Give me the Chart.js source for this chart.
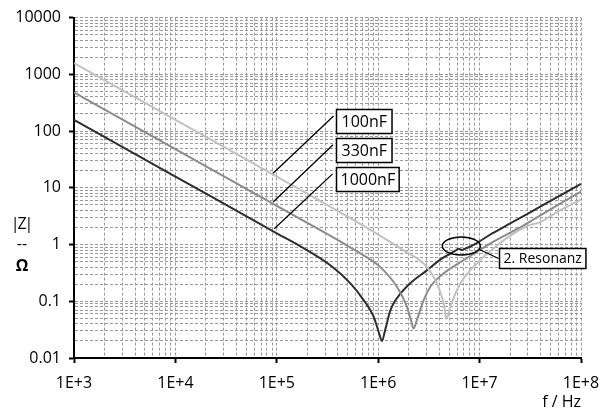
<!DOCTYPE html>
<html>
<head>
<meta charset="utf-8">
<script src="https://cdn.jsdelivr.net/npm/chart.js@4/dist/chart.umd.min.js"></script>
<style>
    html, body { margin: 0; padding: 0; background: #fff; }
    #wrap { width: 611px; height: 410px; position: relative; }
</style>
</head>
<body>
<div id="wrap"><canvas id="chart"></canvas></div>
<script>
// axis decades and their labels
const xDecades = [1e3, 1e4, 1e5, 1e6, 1e7, 1e8];
const xTickLabels = ['1E+3', '1E+4', '1E+5', '1E+6', '1E+7', '1E+8'];
const yDecades = [0.01, 0.1, 1, 10, 100, 1000, 10000];
const yTickLabels = ['0.01', '0.1', '1', '10', '100', '1000', '10000'];

// 1000nF (dark)
const freq1000 = [1e3, 1e4, 1e5, 1.71e5, 3.37e5, 5.32e5, 7.18e5, 9.0e5, 1.01e6, 1.09e6, 1.17e6, 1.32e6, 1.53e6, 2.07e6, 2.95e6, 4.26e6, 5.75e6, 6.2e6, 6.7e6, 7.5e6, 9.2e6, 1.33e7, 2e7, 4e7, 1e8];
const z1000 = [158, 15.8, 1.58, 0.93, 0.43, 0.207, 0.105, 0.054, 0.029, 0.020, 0.031, 0.070, 0.113, 0.207, 0.34, 0.57, 0.77, 0.84, 0.80, 0.87, 1.04, 1.57, 2.35, 4.7, 11.7];

// 330nF (medium)
const freq330 = [1e3, 1e4, 1e5, 5.94e5, 1.05e6, 1.53e6, 1.92e6, 2.12e6, 2.23e6, 2.41e6, 2.81e6, 3.27e6, 4.42e6, 6.95e6, 1.27e7, 2.72e7, 3.97e7, 1e8];
const z330 = [480, 48, 4.8, 0.79, 0.40, 0.180, 0.080, 0.044, 0.033, 0.047, 0.105, 0.180, 0.31, 0.53, 1.04, 2.18, 3.27, 8.6];

// 100nF (light)
const freq100 = [1e3, 1e4, 1e5, 1e6, 1.78e6, 3.03e6, 3.8e6, 4.42e6, 4.7e6, 5.14e6, 5.98e6, 6.95e6, 8.09e6, 1.49e7, 2.93e7, 3.97e7, 5.8e7, 1e8];
const z100 = [1580, 158, 15.8, 1.5, 0.79, 0.40, 0.207, 0.092, 0.049, 0.080, 0.158, 0.253, 0.354, 0.97, 2.12, 2.49, 3.73, 6.2];

const FONT = '"Open Sans", "Noto Sans", sans-serif';

// annotation anchors in data coordinates (frequency, impedance)
const leaders = [
    { from: [9.2e4, 18], to: [3.63e5, 185] },
    { from: [9.2e4, 5.6], to: [3.59e5, 57.5] },
    { from: [9.44e4, 1.9], to: [3.55e5, 17.6] },
    { from: [9.93e6, 0.817], to: [1.54e7, 0.568] }
];
const boxes = [
    { text: '100nF', at: [3.86e5, 150], h: 24, pad: 5, size: 16 },
    { text: '330nF', at: [3.86e5, 47], h: 24, pad: 5, size: 16 },
    { text: '1000nF', at: [3.86e5, 14.3], h: 24, pad: 4, size: 16 },
    { text: '2. Resonanz', at: [1.54e7, 0.568], h: 20, pad: 4, size: 14 }
];
const ring = { at: [6.6e6, 0.94], rx: 19, ry: 9 };

function logTicks(decades) {
    const out = [];
    decades.forEach((d, i) => {
        out.push(d);
        if (i < decades.length - 1) {
            for (let m = 2; m <= 9; m++) out.push(m * d);
        }
    });
    return out.map(v => ({ value: v }));
}

function decadeIndex(decades, value) {
    return decades.findIndex(d => Math.abs(d - value) / d < 1e-9);
}

function toPoints(fs, zs) {
    return fs.map((f, i) => ({ x: f, y: zs[i] }));
}

function series(label, fs, zs, color) {
    return {
        label: label,
        data: toPoints(fs, zs),
        borderColor: color,
        borderWidth: 2,
        pointRadius: 0,
        cubicInterpolationMode: 'monotone',
        fill: false
    };
}

const annotationPlugin = {
    id: 'annotations',
    afterDatasetsDraw(chart) {
        const { ctx, scales: { x, y } } = chart;
        const px = f => x.getPixelForValue(f);
        const py = z => y.getPixelForValue(z);
        ctx.save();
        ctx.strokeStyle = '#000';
        ctx.lineWidth = 1.3;
        leaders.forEach(l => {
            ctx.beginPath();
            ctx.moveTo(px(l.from[0]), py(l.from[1]));
            ctx.lineTo(px(l.to[0]), py(l.to[1]));
            ctx.stroke();
        });

        // ellipse round the 2nd resonance
        ctx.lineWidth = 1.5;
        ctx.beginPath();
        ctx.ellipse(px(ring.at[0]), py(ring.at[1]), ring.rx, ring.ry, 0, 0, Math.PI * 2);
        ctx.stroke();

        boxes.forEach(b => {
            ctx.font = b.size + 'px ' + FONT;
            const w = ctx.measureText(b.text).width + 2 * b.pad;
            const bx = Math.round(px(b.at[0])) + 0.5;
            const by = Math.round(py(b.at[1]) - b.h / 2) + 0.5;
            ctx.fillStyle = '#fff';
            ctx.fillRect(bx, by, w, b.h);
            ctx.lineWidth = 1.5;
            ctx.strokeRect(bx, by, w, b.h);
            ctx.fillStyle = '#000';
            ctx.textAlign = 'left';
            ctx.textBaseline = 'middle';
            ctx.fillText(b.text, bx + b.pad, by + b.h / 2 + 1);
        });

        // y axis title: |Z| over Ω
        const y1 = py(1);
        ctx.textAlign = 'center';
        ctx.textBaseline = 'middle';
        ctx.font = '16px ' + FONT;
        ctx.letterSpacing = '-2px';
        ctx.fillText('|Z|', 21, y1 - 20);
        ctx.letterSpacing = '0px';
        ctx.fillText('--', 22, y1);
        ctx.font = 'bold 16px ' + FONT;
        ctx.fillText('Ω', 22, y1 + 22);
        ctx.restore();
    }
};

const gridColor = '#9a9a9a';

new Chart(document.getElementById('chart').getContext('2d'), {
    type: 'line',
    data: {
        datasets: [
            series('100nF', freq100, z100, '#c2c2c2'),
            series('330nF', freq330, z330, '#8c8c8c'),
            series('1000nF', freq1000, z1000, '#2e2e2e')
        ]
    },
    options: {
        responsive: true,
        maintainAspectRatio: false,
        animation: false,
        events: [],
        layout: { padding: { top: 16, right: 30, left: 0, bottom: 0 } },
        plugins: {
            legend: { display: false },
            tooltip: { enabled: false }
        },
        scales: {
            x: {
                type: 'logarithmic',
                min: 1e3,
                max: 1e8,
                afterBuildTicks: scale => { scale.ticks = logTicks(xDecades); },
                afterFit: scale => { scale.height = 52; },
                grid: {
                    color: gridColor,
                    lineWidth: 1,
                    tickLength: 5,
                    tickWidth: 2,
                    tickColor: c => decadeIndex(xDecades, c.tick.value) >= 0 ? '#000' : 'rgba(0,0,0,0)'
                },
                border: { display: true, color: '#000', width: 2, dash: [3, 2] },
                ticks: {
                    autoSkip: false,
                    maxRotation: 0,
                    padding: 11,
                    color: '#000',
                    font: { family: FONT, size: 16 },
                    callback: value => {
                        const i = decadeIndex(xDecades, value);
                        return i >= 0 ? xTickLabels[i] : '';
                    }
                },
                title: {
                    display: true,
                    text: 'f / Hz',
                    align: 'end',
                    color: '#000',
                    font: { family: FONT, size: 16, lineHeight: 1 },
                    padding: { top: 0, bottom: 0 }
                }
            },
            y: {
                type: 'logarithmic',
                min: 0.01,
                max: 10000,
                afterBuildTicks: scale => { scale.ticks = logTicks(yDecades); },
                afterFit: scale => { scale.width = 74; },
                grid: {
                    color: gridColor,
                    lineWidth: 1,
                    tickLength: 5,
                    tickWidth: 2,
                    tickColor: c => decadeIndex(yDecades, c.tick.value) >= 0 ? '#000' : 'rgba(0,0,0,0)'
                },
                border: { display: true, color: '#000', width: 2, dash: [3, 2] },
                ticks: {
                    autoSkip: false,
                    padding: 8,
                    color: '#000',
                    font: { family: FONT, size: 16 },
                    callback: value => {
                        const i = decadeIndex(yDecades, value);
                        return i >= 0 ? yTickLabels[i] : '';
                    }
                }
            }
        }
    },
    plugins: [annotationPlugin]
});
</script>
</body>
</html>
